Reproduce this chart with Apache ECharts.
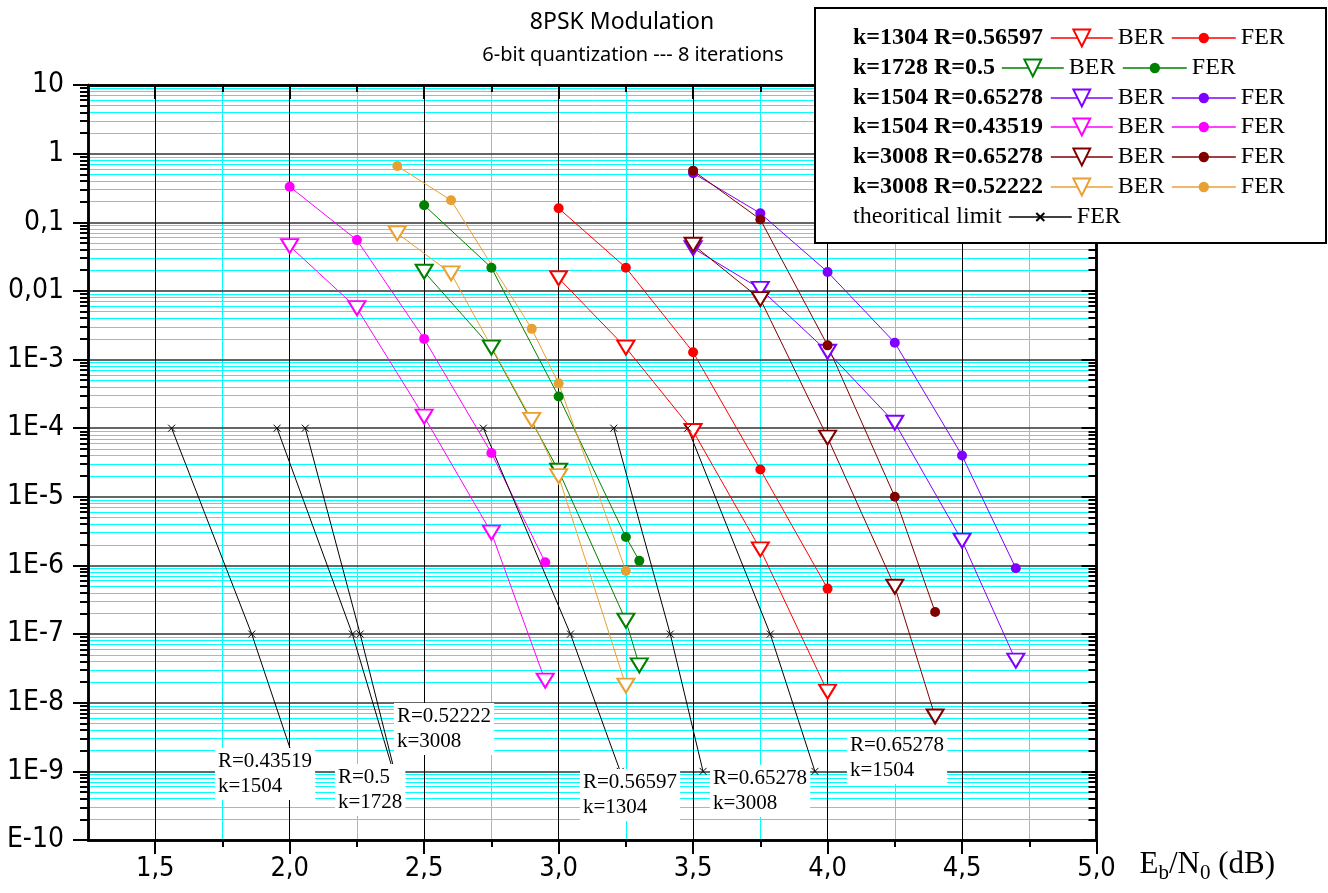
<!DOCTYPE html>
<html><head><meta charset="utf-8">
<script src="https://cdn.jsdelivr.net/npm/echarts@6/dist/echarts.min.js"></script>
<style>html,body{margin:0;padding:0;background:#fff}#c{width:1328px;height:893px}</style>
</head><body><div id="c"></div>
<script>
// ---------- DATA ----------
const xTickValues = [1.5, 2.0, 2.5, 3.0, 3.5, 4.0, 4.5, 5.0];
const yTickLabels = ['E-10','1E-9','1E-8','1E-7','1E-6','1E-5','1E-4','1E-3','0,01','0,1','1','10'];

// k=1304 R=0.56597
const x_k1304 = [3.0, 3.25, 3.5, 3.75, 4.0];
const ber_k1304 = [0.0153, 1.49e-3, 9.1e-5, 1.72e-6, 1.45e-8];
const fer_k1304 = [0.16, 0.0218, 1.28e-3, 2.5e-5, 4.6e-7];
// k=1728 R=0.5
const x_k1728 = [2.5, 2.75, 3.0, 3.25, 3.3];
const ber_k1728 = [0.019, 1.49e-3, 2.4e-5, 1.57e-7, 3.5e-8];
const fer_k1728 = [0.177, 0.0218, 2.9e-4, 2.6e-6, 1.17e-6];
// k=1504 R=0.65278
const x_k1504a = [3.5, 3.75, 4.0, 4.25, 4.5, 4.7];
const ber_k1504a = [0.042, 0.0107, 1.3e-3, 1.2e-4, 2.3e-6, 4.1e-8];
const fer_k1504a = [0.52, 0.135, 0.0189, 1.76e-3, 4.0e-5, 9.1e-7];
// k=1504 R=0.43519
const x_k1504b = [2.0, 2.25, 2.5, 2.75, 2.95];
const ber_k1504b = [0.045, 5.6e-3, 1.47e-4, 3.0e-6, 2.1e-8];
const fer_k1504b = [0.33, 0.055, 2.0e-3, 4.35e-5, 1.11e-6];
// k=3008 R=0.65278
const x_k3008a = [3.5, 3.75, 4.0, 4.25, 4.4];
const ber_k3008a = [0.047, 7.6e-3, 7.3e-5, 4.9e-7, 6.3e-9];
const fer_k3008a = [0.565, 0.11, 1.61e-3, 1.0e-5, 2.1e-7];
// k=3008 R=0.52222
const x_k3008b = [2.4, 2.6, 2.9, 3.0, 3.25];
const ber_k3008b = [0.069, 0.018, 1.32e-4, 2.0e-5, 1.77e-8];
const fer_k3008b = [0.66, 0.209, 2.8e-3, 4.5e-4, 8.3e-7];

// theoretical limit (FER)
const theoryFER = [1e-4, 1e-7, 1e-9];
const theoryX_R043519 = [1.561, 1.859, 2.03];
const theoryX_R05 = [1.953, 2.233, 2.385];
const theoryX_R052222 = [2.058, 2.262, 2.39];
const theoryX_R056597 = [2.720, 3.044, 3.229];
const theoryX_R065278_k3008 = [3.205, 3.415, 3.537];
const theoryX_R065278_k1504 = [3.48, 3.787, 3.953];
const theoryLabels = ['R=0.43519\nk=1504','R=0.5\nk=1728','R=0.52222\nk=3008','R=0.56597\nk=1304','R=0.65278\nk=3008','R=0.65278\nk=1504'];

// ---------- BUILD ----------
const SERIF = "'Liberation Serif','Times New Roman',serif";
const NARROW = "'Liberation Sans Narrow','DejaVu Sans Condensed','Liberation Sans',sans-serif";
const TITLEF = "'Noto Sans','DejaVu Sans',sans-serif";

const groups = [
  {label:'k=1304 R=0.56597', color:'#FF0000', x:x_k1304, ber:ber_k1304, fer:fer_k1304},
  {label:'k=1728 R=0.5', color:'#008000', x:x_k1728, ber:ber_k1728, fer:fer_k1728},
  {label:'k=1504 R=0.65278', color:'#8000FF', x:x_k1504a, ber:ber_k1504a, fer:fer_k1504a},
  {label:'k=1504 R=0.43519', color:'#FF00FF', x:x_k1504b, ber:ber_k1504b, fer:fer_k1504b},
  {label:'k=3008 R=0.65278', color:'#800000', x:x_k3008a, ber:ber_k3008a, fer:fer_k3008a},
  {label:'k=3008 R=0.52222', color:'#E8A033', x:x_k3008b, ber:ber_k3008b, fer:fer_k3008b}
];
const theoryXs = [theoryX_R043519, theoryX_R05, theoryX_R052222, theoryX_R056597, theoryX_R065278_k3008, theoryX_R065278_k1504];

const xMin = 1.25, xMax = 5.0, yMin = 1e-10, yMax = 10;
const decades = []; for (let d = -10; d <= 1; d++) decades.push(Number('1e' + d));
const yMinor = []; for (let d = -10; d <= 0; d++) for (let k = 2; k <= 9; k++) yMinor.push(Number(k + 'e' + d));
const xMinor = []; for (let v = 1.75; v < 5; v += 0.5) xMinor.push(+v.toFixed(2));

const XI = 2, YI = 2; // axes used by the data series (major axes)
const series = [];
groups.forEach(g => {
  series.push({
    type:'line', name:g.label + ' BER', xAxisIndex:XI, yAxisIndex:YI, data:g.x.map((v,i)=>[v, g.ber[i]]),
    symbol:'emptyTriangle', symbolRotate:180, symbolSize:[17,14], z:3,
    lineStyle:{color:g.color, width:1}, itemStyle:{color:g.color, borderColor:g.color, borderWidth:1.4}
  });
  series.push({
    type:'line', name:g.label + ' FER', xAxisIndex:XI, yAxisIndex:YI, data:g.x.map((v,i)=>[v, g.fer[i]]),
    symbol:'circle', symbolSize:10, z:3,
    lineStyle:{color:g.color, width:1}, itemStyle:{color:g.color}
  });
});
const XSYM = 'path://M0,0L10,10M10,0L0,10';
theoryXs.forEach(xs => {
  series.push({
    type:'line', name:'theoritical limit', xAxisIndex:XI, yAxisIndex:YI, data:xs.map((v,i)=>[v, theoryFER[i]]),
    symbol:XSYM, symbolSize:7, z:3,
    lineStyle:{color:'#000', width:1}, itemStyle:{color:'#000', borderColor:'#000', borderWidth:1}
  });
});

// legend: one component per item
const rowY = [38, 68, 98, 127, 157, 187, 217];
const legTxt = {fontFamily:SERIF, fontSize:24, color:'#000', lineHeight:24};
const legLine = {width:1.6};
const legFmt = n => n.endsWith(' BER') ? 'BER' : 'FER';
const legends = [];
groups.forEach((g, i) => {
  const berLeft = i === 1 ? 1001 : 1050;
  const ferLeft = i === 1 ? 1122 : 1171;
  legends.push({data:[g.label + ' BER'], left:berLeft, top:rowY[i]-12, padding:0, itemWidth:62, itemHeight:21, lineStyle:legLine, textStyle:legTxt, formatter:legFmt, z:6});
  legends.push({data:[g.label + ' FER'], left:ferLeft, top:rowY[i]-12, padding:0, itemWidth:64, itemHeight:13, lineStyle:legLine, textStyle:legTxt, formatter:legFmt, z:6});
});
legends.push({data:['theoritical limit'], left:1008, top:rowY[6]-12, padding:0, itemWidth:63, itemHeight:10, lineStyle:legLine, textStyle:legTxt, formatter:()=>'FER', z:6});

const graphics = [
  {type:'rect', shape:{x:815, y:8, width:511, height:235}, style:{fill:'#fff', stroke:'#000', lineWidth:2}, z:5},
  {type:'text', x:622, y:22, z:6, style:{text:'8PSK Modulation', font:"23px " + TITLEF, fill:'#000', align:'center', verticalAlign:'middle'}},
  {type:'text', x:633, y:55, z:6, style:{text:'6-bit quantization --- 8 iterations', font:"20px " + TITLEF, fill:'#000', align:'center', verticalAlign:'middle'}}
];
groups.forEach((g, i) => graphics.push({type:'text', x:853, y:rowY[i], z:7, style:{text:g.label, font:"bold 24px " + SERIF, fill:'#000', verticalAlign:'middle'}}));
graphics.push({type:'text', x:853, y:rowY[6], z:7, style:{text:'theoritical limit', font:"24px " + SERIF, fill:'#000', verticalAlign:'middle'}});
const annPos = [[215,748],[335,764],[394,703],[580,769],[710,765],[847,732]];
theoryLabels.forEach((t, i) => graphics.push({type:'text', x:annPos[i][0], y:annPos[i][1], z:6,
  style:{text:t, font:"21px " + SERIF, fill:'#000', lineHeight:25, backgroundColor:'#fff', padding:[1,3]}}));

const AX = {lineStyle:{color:'#000', width:2.5}};
const NOLINE = {show:false};
const CYAN = {show:true, lineStyle:{color:'#00FFFF', width:1, type:'solid'}};
const xBase = {type:'value', min:xMin, max:xMax, splitLine:NOLINE, axisLine:AX};
const yBase = {type:'log', logBase:10, min:yMin, max:yMax, splitLine:NOLINE, minorSplitLine:NOLINE, axisLine:AX};

const option = {
  animation:false,
  backgroundColor:'#fff',
  grid:{left:88, right:231.5, top:85, bottom:53, containLabel:false},
  xAxis:[
    // minor (cyan grid every 0.25)
    Object.assign({}, xBase, {position:'bottom', z:0, splitLine:CYAN, axisTick:{customValues:xMinor, length:7, lineStyle:{color:'#000', width:2}}, axisLabel:{show:false}}),
    Object.assign({}, xBase, {position:'top', z:0, axisTick:{inside:true, customValues:xMinor, length:7, lineStyle:{color:'#000', width:2}}, axisLabel:{show:false}}),
    // major (labels)
    Object.assign({}, xBase, {position:'bottom', z:1,
      splitLine:{show:true, lineStyle:{color:'#000', width:1, type:'solid'}},
      axisTick:{customValues:xTickValues, length:14, lineStyle:{color:'#000', width:2}},
      axisLabel:{customValues:xTickValues, formatter:v => v.toFixed(1).replace('.', ','), fontFamily:NARROW, fontSize:27, color:'#000', margin:15},
      name:'{a|E}{s|b}{a|/N}{s|0}{a| (dB)}', nameLocation:'end', nameGap:43,
      nameTextStyle:{verticalAlign:'top', padding:[6,0,0,0], rich:{
        a:{fontFamily:SERIF, fontSize:31, color:'#000', lineHeight:38},
        s:{fontFamily:SERIF, fontSize:21, color:'#000', lineHeight:38, verticalAlign:'bottom'}}}
    }),
    Object.assign({}, xBase, {position:'top', z:1, axisTick:{inside:true, customValues:xTickValues, length:14, lineStyle:{color:'#000', width:2}}, axisLabel:{show:false}})
  ],
  yAxis:[
    // minor (cyan grid at 2..9 x 10^n)
    Object.assign({}, yBase, {position:'left', z:0, splitLine:CYAN, axisTick:{customValues:yMinor, length:8, lineStyle:{color:'#000', width:2}}, axisLabel:{show:false}}),
    Object.assign({}, yBase, {position:'right', z:0, axisTick:{inside:true, customValues:yMinor, length:8, lineStyle:{color:'#000', width:2}}, axisLabel:{show:false}}),
    // major decades (labels)
    Object.assign({}, yBase, {position:'left', z:1,
      splitLine:{show:true, lineStyle:{color:'#333', width:1.5, type:'solid'}},
      axisTick:{customValues:decades, length:15, lineStyle:{color:'#000', width:2}},
      axisLabel:{customValues:decades, formatter:v => yTickLabels[Math.round(Math.log10(v)) + 10], fontFamily:NARROW, fontSize:28, color:'#000', margin:24}}),
    Object.assign({}, yBase, {position:'right', z:1, axisTick:{inside:true, customValues:decades, length:15, lineStyle:{color:'#000', width:2}}, axisLabel:{show:false}})
  ],
  legend:legends,
  graphic:graphics,
  series:series
};
const chart = echarts.init(document.getElementById('c'));
chart.setOption(option);
</script></body></html>
